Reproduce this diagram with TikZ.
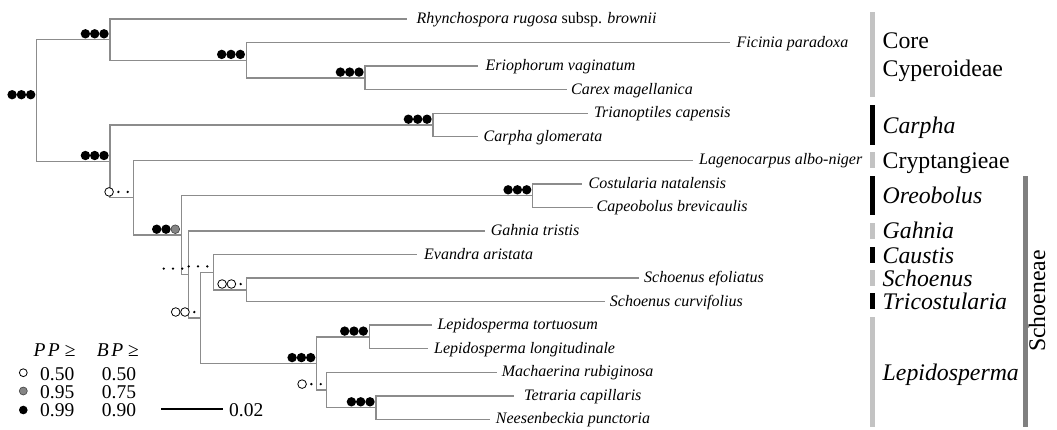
\documentclass[tikz,border=0pt]{standalone}
\usepackage{fontspec}
\setmainfont{Liberation Serif}
\usetikzlibrary{calc}
\definecolor{brc}{HTML}{8C8C8C}
\definecolor{lbar}{HTML}{C3C3C3}
\definecolor{dbar}{HTML}{808080}
\definecolor{gmk}{HTML}{858585}
\newcommand\Mf[1]{\fill[black] (#1) circle (4.7pt);}
\newcommand\Mg[1]{\filldraw[fill=gmk,draw=black!75,line width=0.6pt] (#1) circle (4.35pt);}
\newcommand\Mo[1]{\filldraw[fill=white,draw=black,line width=0.8pt] (#1) circle (4.3pt);}
\newcommand\Md[1]{\fill[black] (#1) circle (1.3pt);}
\newcommand\supp[4]{%
  \csname M#2\endcsname{$(#1)+(-24.6,-5.8)$}%
  \csname M#3\endcsname{$(#1)+(-15.3,-5.8)$}%
  \csname M#4\endcsname{$(#1)+(-6,-5.8)$}}
\tikzset{
  br/.style={draw=brc, line width=1.4pt},
  leaf/.style={font=\fontsize{16}{18}\selectfont\itshape, anchor=base west, inner sep=0pt},
  grp/.style={font=\fontsize{23.8}{26}\selectfont, anchor=base west, inner sep=0pt},
  leg/.style={font=\fontsize{19.5}{21}\selectfont, anchor=base west, inner sep=0pt},
}
\begin{document}
\begin{tikzpicture}[x=1pt,y=-1pt]
\useasboundingbox (0,0) rectangle (1057,429);
% leaf tips
\coordinate (l0) at (407,19);
\coordinate (l1) at (730,42.55);
\coordinate (l2) at (478.3,66.1);
\coordinate (l3) at (566.7,89.65);
\coordinate (l4) at (588.3,113.2);
\coordinate (l5) at (478.3,136.75);
\coordinate (l6) at (692.7,160.3);
\coordinate (l7) at (581.7,183.85);
\coordinate (l8) at (593.3,207.4);
\coordinate (l9) at (485,230.95);
\coordinate (l10) at (416.7,254.5);
\coordinate (l11) at (639.3,278.05);
\coordinate (l12) at (605,301.6);
\coordinate (l13) at (431.7,325.15);
\coordinate (l14) at (428.3,348.7);
\coordinate (l15) at (496.7,372.25);
\coordinate (l16) at (514,395.8);
\coordinate (l17) at (490,419.35);
% internal nodes
\coordinate (root) at (36.7,100.5);
\coordinate (core) at (110,39.6);
\coordinate (fic) at (246.3,60.2);
\coordinate (eri) at (365,77.9);
\coordinate (low) at (110,161.3);
\coordinate (car) at (433,125);
\coordinate (lag) at (133.7,197.7);
\coordinate (X) at (181.3,235);
\coordinate (oreo) at (532.7,195.6);
\coordinate (A) at (188.3,274.4);
\coordinate (B) at (200.3,317.8);
\coordinate (C) at (213.3,272.2);
\coordinate (E) at (246.7,289.8);
\coordinate (D) at (316.7,363.4);
\coordinate (F) at (369.3,336.9);
\coordinate (G) at (326.7,389.9);
\coordinate (H) at (376,407.6);
% branches
\foreach \p/\c in {root/core,root/low,core/l0,core/fic,fic/l1,fic/eri,eri/l2,eri/l3,
  low/car,low/lag,car/l4,car/l5,lag/l6,lag/X,X/oreo,X/A,oreo/l7,oreo/l8,A/l9,A/B,
  B/C,B/D,C/l10,C/E,E/l11,E/l12,D/F,D/G,F/l13,F/l14,G/l15,G/H,H/l16,H/l17}
  \draw[br] (\p) |- (\c);
% support marks
\supp{root}fff
\supp{core}fff
\supp{fic}fff
\supp{eri}fff
\supp{low}fff
\supp{car}fff
\supp{lag}odd
\supp{X}ffg
\supp{oreo}fff
\supp{A}ddd
\supp{C}ddd
\supp{B}ood
\supp{E}ood
\supp{D}fff
\supp{F}fff
\supp{G}odd
\supp{H}fff
% leaf labels
\node[leaf] (t0) at (416.5,23.5) {Rhynchospora rugosa {\upshape subsp.} brownii};
\node[leaf] (t1) at (736.5,47) {Ficinia paradoxa};
\node[leaf] (t2) at (485.5,70.6) {Eriophorum vaginatum};
\node[leaf] (t3) at (571,94.1) {Carex magellanica};
\node[leaf] (t4) at (594,117.7) {Trianoptiles capensis};
\node[leaf] (t5) at (483.5,141.2) {Carpha glomerata};
\node[leaf] (t6) at (699,164.8) {Lagenocarpus albo-niger};
\node[leaf] (t7) at (588.5,188.3) {Costularia natalensis};
\node[leaf] (t8) at (596.5,211.9) {Capeobolus brevicaulis};
\node[leaf] (t9) at (490.7,235.4) {Gahnia tristis};
\node[leaf] (t10) at (424,259) {Evandra aristata};
\node[leaf] (t11) at (644,282.5) {Schoenus efoliatus};
\node[leaf] (t12) at (609.7,306.1) {Schoenus curvifolius};
\node[leaf] (t13) at (437.3,329.6) {Lepidosperma tortuosum};
\node[leaf] (t14) at (434,353.2) {Lepidosperma longitudinale};
\node[leaf] (t15) at (501.7,376.7) {Machaerina rubiginosa};
\node[leaf] (t16) at (524,400.3) {Tetraria capillaris};
\node[leaf] (t17) at (495.7,423.8) {Neesenbeckia punctoria};
% group bars
\fill[lbar] (870,11.7) rectangle (875,97.3);
\fill[black] (870,105) rectangle (875,145);
\fill[lbar] (870,152.3) rectangle (875,168.3);
\fill[black] (870,175.7) rectangle (875,215);
\fill[lbar] (870,222.7) rectangle (875,239.3);
\fill[black] (870,246.7) rectangle (875,263.3);
\fill[lbar] (870,270) rectangle (875,286);
\fill[black] (870,293.3) rectangle (875,309.3);
\fill[lbar] (870,317.3) rectangle (875,426.7);
\fill[dbar] (1022.7,175.7) rectangle (1028.3,426.7);
% group labels
\node[grp] (g1) at (882.5,48.3) {Core};
\node[grp] (g2) at (882.5,76.7) {Cyperoideae};
\node[grp, font=\fontsize{23.8}{26}\selectfont\itshape] (g3) at (882.5,133.3) {Carpha};
\node[grp] (g4) at (882.5,168.3) {Cryptangieae};
\node[grp, font=\fontsize{23.8}{26}\selectfont\itshape] (g5) at (882.5,203.4) {Oreobolus};
\node[grp, font=\fontsize{23.8}{26}\selectfont\itshape] (g6) at (882.5,238.8) {Gahnia};
\node[grp, font=\fontsize{23.8}{26}\selectfont\itshape] (g7) at (882.5,263) {Caustis};
\node[grp, font=\fontsize{23.8}{26}\selectfont\itshape] (g8) at (882.5,286.2) {Schoenus};
\node[grp, font=\fontsize{23.8}{26}\selectfont\itshape] (g9) at (882.5,309.4) {Tricostularia};
\node[grp, font=\fontsize{23.8}{26}\selectfont\itshape] (g10) at (882.5,380.2) {Lepidosperma};
\node[font=\fontsize{23.8}{26}\selectfont, rotate=90, inner sep=0pt] (sch) at (1037,301) {Schoeneae};
% legend
\node[leg] (pp) at (33.3,356.7) {\textit{P\kern2.5pt P}\kern5pt≥};
\node[leg] (bp) at (96.7,356.7) {\textit{B\kern2.5pt P}\kern5pt≥};
\filldraw[fill=white,draw=black,line width=0.8pt] (23.3,372.7) circle (3.9pt);
\filldraw[fill=gmk,draw=black!75,line width=0.6pt] (23.3,391) circle (4pt);
\fill[black] (23.3,410) circle (4.3pt);
\node[leg] (a1) at (40,380) {0.50};
\node[leg] (a2) at (40,398.3) {0.95};
\node[leg] (a3) at (40,416.7) {0.99};
\node[leg] (b1) at (101.7,380) {0.50};
\node[leg] (b2) at (101.7,398.3) {0.75};
\node[leg] (b3) at (101.7,416.7) {0.90};
\coordinate (sb1) at (161,409);
\coordinate (sb2) at (222.7,409);
\draw[black, line width=1.2pt] (sb1) -- (sb2);
\node[leg] (sbl) at (229,416) {0.02};
\end{tikzpicture}
\end{document}
